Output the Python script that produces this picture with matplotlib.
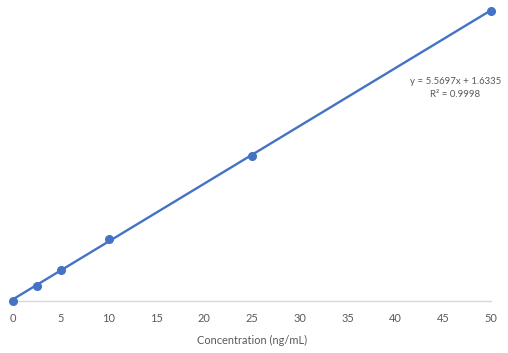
import numpy as np
import matplotlib
matplotlib.use("Agg")
import matplotlib.pyplot as plt

BLUE = "#4472C4"
GRAY_T = "#595959"
GRAY_A = "#D9D9D9"

# ---- data ----
conc = [0, 2.5, 5, 10, 25, 50]
signal = [0.0, 14.4, 29.8, 59.6, 139.4, 279.8]
slope, intercept = 5.5697, 1.6335
r2 = 0.9998
xticks = [0, 5, 10, 15, 20, 25, 30, 35, 40, 45, 50]

plt.rcParams["font.family"] = ["Lato", "DejaVu Sans"]

fig = plt.figure(figsize=(5.08, 3.53), dpi=100)
ax = fig.add_axes([13 / 508, 52 / 353, 478 / 508, 1 - 52 / 353])

xfit = np.array([conc[0], conc[-1]])
ax.plot(xfit, slope * xfit + intercept, color=BLUE, linewidth=1.7, zorder=2)
ax.plot(conc, signal, "o", color=BLUE, markersize=5.5, zorder=3, clip_on=False)

ax.set_xlim(0, 50)
ax.set_ylim(0, 290)
ax.set_xticks(xticks)
ax.set_xticklabels([str(t) for t in xticks], fontsize=7.9, color=GRAY_T)
ax.tick_params(axis="x", length=0, pad=8.5)
ax.set_yticks([])
for side in ["top", "right", "left"]:
    ax.spines[side].set_visible(False)
ax.spines["bottom"].set_color(GRAY_A)
ax.spines["bottom"].set_linewidth(1.0)
ax.set_xlabel("Concentration (ng/mL)", fontsize=7.9, color=GRAY_T, labelpad=8)

ax.text(0.925, 0.708, f"y = {slope}x + {intercept}\nR² = {r2}",
        transform=ax.transAxes, ha="center", va="center", fontsize=6.9,
        color=GRAY_T, linespacing=1.65)

fig.savefig("out.png", dpi=100)
